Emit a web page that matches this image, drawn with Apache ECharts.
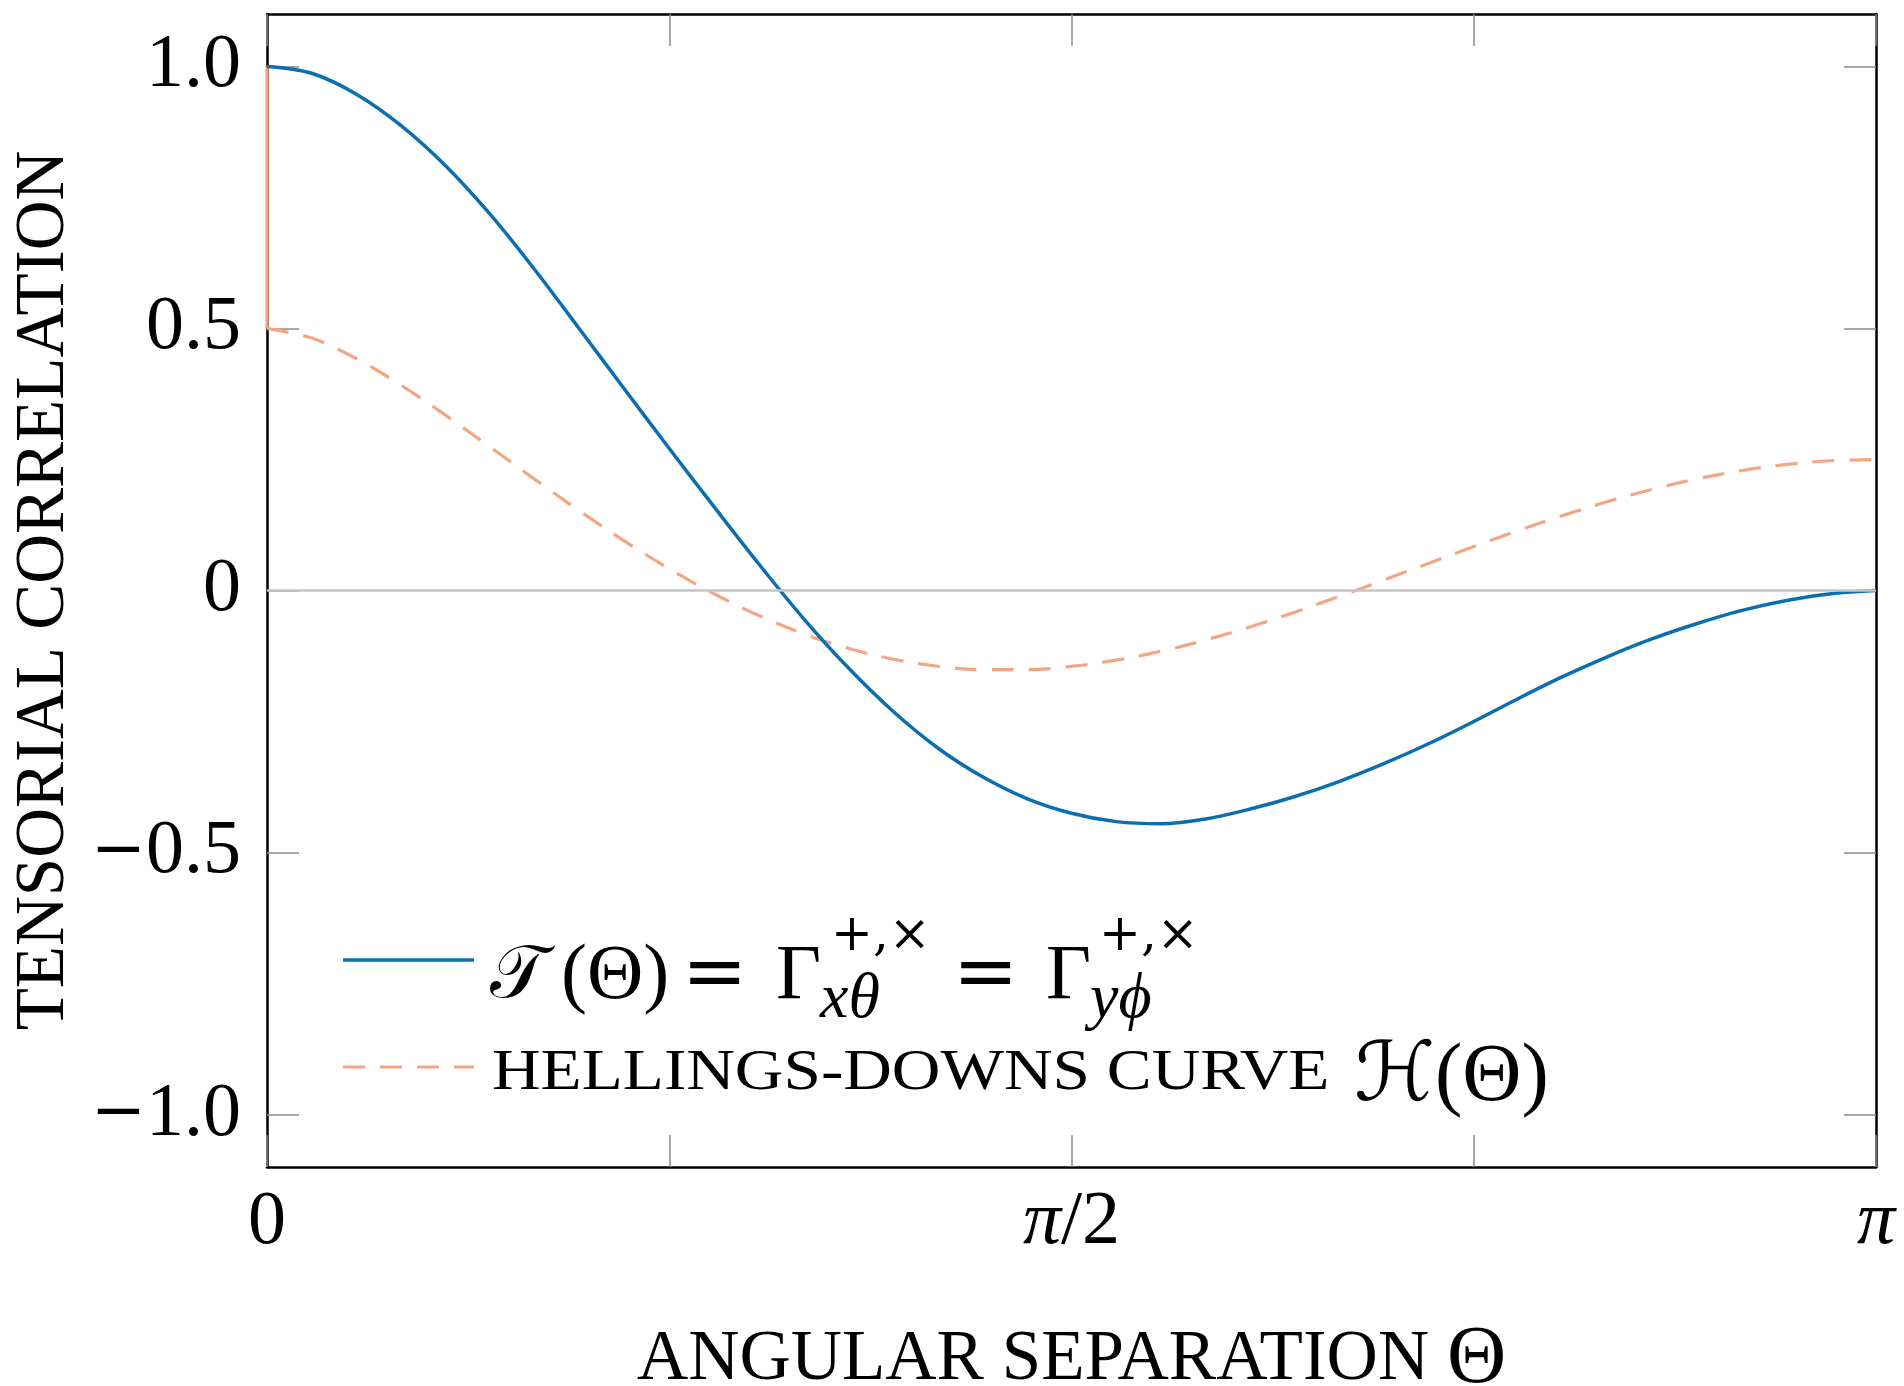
<!DOCTYPE html>
<html>
<head>
<meta charset="utf-8">
<script src="https://cdn.jsdelivr.net/npm/echarts@6/dist/echarts.min.js"></script>
<style>
html,body{margin:0;padding:0;background:#fff;}
#chart{width:1904px;height:1386px;}
</style>
</head>
<body>
<div id="chart"></div>
<script>
// angular separation in degrees (0 .. 180 = 0 .. pi)
const thetaDeg = [0,5,10,15,20,25,30,35,40,45,50,55,60,65,70,75,80,85,90,95,100,105,110,115,120,125,130,135,140,145,150,155,160,165,170,175,180];
// tensorial correlation T(Theta)
const tensorialT = [1.000,0.987,0.947,0.887,0.810,0.717,0.611,0.498,0.384,0.271,0.160,0.051,-0.053,-0.147,-0.230,-0.300,-0.355,-0.397,-0.425,-0.441,-0.445,-0.436,-0.417,-0.393,-0.364,-0.330,-0.292,-0.250,-0.206,-0.164,-0.126,-0.092,-0.063,-0.038,-0.019,-0.006,0.000];
// Hellings-Downs curve H(Theta)
const hellingsDowns = [0.500,0.4816,0.4425,0.3917,0.3341,0.2732,0.2116,0.1514,0.0943,0.0414,-0.0062,-0.0476,-0.0824,-0.1102,-0.1309,-0.1445,-0.1511,-0.1511,-0.1449,-0.1329,-0.1159,-0.0945,-0.0693,-0.0413,-0.0111,0.0203,0.0522,0.0839,0.1145,0.1433,0.1697,0.1931,0.2130,0.2289,0.2405,0.2476,0.2500];
// zero-lag (auto-correlation) jump of the Hellings-Downs curve at Theta = 0
const hdZeroLagTheta = [0, 0];
const hdZeroLagValue = [1.0, 0.5];
// ticks and labels
const xTickValues = [0,45,90,135,180];
const xLabelValues = [0,90,180];
const xLabelTexts = ['0','{i|\u03c0}/2','{i|\u03c0}'];
const yTickValues = [-1,-0.5,0,0.5,1];
const yLabelTexts = ['{m|\u2212}1.0','{m|\u2212}0.5','0','0.5','1.0'];

const BLUE = '#0b6eb0';
const ORANGE = '#f4a582';
const SERIF = '"Liberation Serif", "DejaVu Serif", serif';
const DJV = '"DejaVu Serif", "Liberation Serif", serif';
const MATHF = '"Liberation Serif", "DejaVu Serif", "DejaVu Sans", serif';

const chart = echarts.init(document.getElementById('chart'), null, {renderer:'canvas'});

const tickStyle = {show:true, inside:true, length:32, lineStyle:{color:'#8c8c8c', width:1.5}};
const frameLine = {show:true, onZero:false, lineStyle:{color:'#000', width:2.5}};

function xLabel(v){ const k = xLabelValues.indexOf(v); return k >= 0 ? xLabelTexts[k] : ''; }
function yLabel(v){ const k = yTickValues.indexOf(v); return k >= 0 ? yLabelTexts[k] : ''; }

function txt(x, y, text, size, family, extra){
  const el = {type:'text', x:x, y:y, style:Object.assign({text:text, fontSize:size, fontFamily:family, fill:'#000', verticalAlign:'middle'}, (extra && extra.style) || {})};
  if (extra && extra.scaleX) el.scaleX = extra.scaleX;
  return el;
}

const option = {
  backgroundColor:'#fff',
  animation:false,
  grid:{left:267, right:28, top:14, bottom:219, containLabel:false, outerBoundsMode:'none'},
  xAxis:[
    {type:'value', position:'bottom', min:0, max:180,
     axisLine:frameLine,
     axisTick:Object.assign({customValues:xTickValues}, tickStyle),
     axisLabel:{customValues:xLabelValues, formatter:xLabel, margin:18, fontSize:76, color:'#000', fontFamily:SERIF,
       rich:{i:{fontSize:76, fontStyle:'italic', fontFamily:SERIF, color:'#000'}}},
     splitLine:{show:false},
     name:'ANGULAR SEPARATION {big|\u0398}', nameLocation:'middle', nameGap:152,
     nameTextStyle:{fontSize:71, color:'#000', fontFamily:SERIF, rich:{big:{fontSize:82, color:'#000', fontFamily:SERIF}}}
    },
    {type:'value', position:'top', min:0, max:180,
     axisLine:frameLine,
     axisTick:Object.assign({customValues:xTickValues}, tickStyle),
     axisLabel:{show:false}, splitLine:{show:false}
    }
  ],
  yAxis:[
    {type:'value', position:'left', min:-1.1, max:1.1,
     axisLine:frameLine,
     axisTick:Object.assign({customValues:yTickValues}, tickStyle),
     axisLabel:{customValues:yTickValues, formatter:yLabel, margin:26, fontSize:76, color:'#000', fontFamily:SERIF,
       rich:{m:{fontSize:66, fontFamily:DJV, color:'#000'}}},
     splitLine:{show:false},
     name:'TENSORIAL CORRELATION', nameLocation:'middle', nameRotate:90, nameGap:186,
     nameTextStyle:{fontSize:69, color:'#000', fontFamily:SERIF}
    },
    {type:'value', position:'right', min:-1.1, max:1.1,
     axisLine:frameLine,
     axisTick:Object.assign({customValues:yTickValues}, tickStyle),
     axisLabel:{show:false}, splitLine:{show:false}
    }
  ],
  series:[
    {name:'zero', type:'line', data:[], z:1, silent:true,
     markLine:{silent:true, symbol:['none','none'], label:{show:false},
       lineStyle:{color:'#c4c4c4', width:2.5, type:'solid'}, data:[{yAxis:0}]}},
    {name:'Hellings-Downs curve H(\u0398)', type:'line', z:3, showSymbol:false, smooth:0.35,
     data:thetaDeg.map((t,i)=>[t, hellingsDowns[i]]),
     lineStyle:{color:ORANGE, width:3.2, type:[22,15]}},
    {name:'Hellings-Downs zero lag', type:'line', z:3, showSymbol:false, clip:false,
     data:hdZeroLagTheta.map((t,i)=>[t, hdZeroLagValue[i]]),
     lineStyle:{color:ORANGE, width:3.2, type:'solid'}},
    {name:'T(\u0398)', type:'line', z:4, showSymbol:false, smooth:0.35,
     data:thetaDeg.map((t,i)=>[t, tensorialT[i]]),
     lineStyle:{color:BLUE, width:3.5}}
  ],
  graphic:[
    {type:'line', shape:{x1:343, y1:960, x2:474, y2:960}, style:{stroke:BLUE, lineWidth:3.5}},
    {type:'line', shape:{x1:343, y1:1067, x2:474, y2:1067}, style:{stroke:ORANGE, lineWidth:3.2, lineDash:[22,15]}},
    txt(490, 978, '\ud835\udcaf', 74, MATHF),
    txt(561, 978, '(\u0398)', 78, SERIF),
    txt(682, 978, '=', 78, DJV),
    txt(776, 978, '\u0393', 78, SERIF),
    txt(831, 937, '+,\u00d7', 50, DJV),
    txt(820, 1000, 'x\u03b8', 64, SERIF, {style:{fontStyle:'italic'}}),
    txt(953, 978, '=', 78, DJV),
    txt(1046, 978, '\u0393', 78, SERIF),
    txt(1099, 937, '+,\u00d7', 50, DJV),
    txt(1090, 1000, 'y\u03d5', 64, SERIF, {style:{fontStyle:'italic'}}),
    txt(492, 1074, 'HELLINGS-DOWNS CURVE', 58, SERIF, {scaleX:1.16}),
    txt(1354, 1078, '\u210b(\u0398)', 82, MATHF)
  ]
};
chart.setOption(option);
</script>
</body>
</html>
